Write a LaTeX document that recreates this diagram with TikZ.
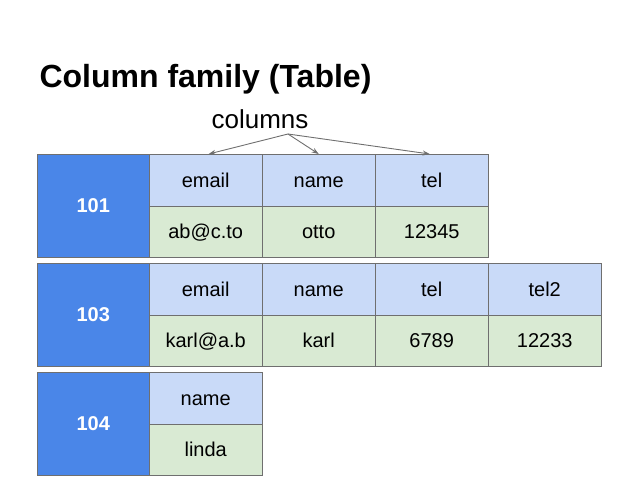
\documentclass[tikz,border=0pt]{standalone}
\usepackage{fontspec}
\setmainfont{Liberation Sans}
\usetikzlibrary{arrows.meta}

\definecolor{keyblue}{HTML}{4A86E8}
\definecolor{colblue}{HTML}{C9DAF8}
\definecolor{valgreen}{HTML}{D9EAD3}
\definecolor{gridgray}{HTML}{6F6F6F}

\tikzset{
  rowkey/.style={draw=gridgray, fill=keyblue, text=white, font=\fontsize{20}{20}\selectfont\bfseries,
    minimum width=112pt, minimum height=103pt, inner sep=0pt, anchor=north west,
    text height=16.5pt, text depth=2pt},
  colname/.style={draw=gridgray, fill=colblue, font=\fontsize{20}{20}\selectfont,
    minimum width=113pt, minimum height=51.5pt, inner sep=0pt, anchor=north west,
    text height=16.5pt, text depth=2pt},
  colval/.style={colname, fill=valgreen},
  pointer/.style={draw=gridgray, line width=0.9pt, -{Stealth[length=7pt,width=5pt]}}
}

\begin{document}
\begin{tikzpicture}[x=1pt,y=-1pt]
\useasboundingbox (0,0) rectangle (638,479);

\node[anchor=base west, font=\fontsize{32}{32}\selectfont\bfseries] (title) at (36,87) {Column family (Table)};
\node[font=\fontsize{26}{26}\selectfont] (cols) at (260,119) {columns};
\coordinate (colsrc) at (288,134);

% row 101
\node[rowkey] (k1) at (37,154) {101};
\node[colname] (c1a) at (149,154) {email};
\node[colname] (c1b) at (262,154) {name};
\node[colname] (c1c) at (375,154) {tel};
\node[colval] (v1a) at (149,205.5) {ab@c.to};
\node[colval] (v1b) at (262,205.5) {otto};
\node[colval] (v1c) at (375,205.5) {12345};

% row 103
\node[rowkey] (k2) at (37,263) {103};
\node[colname] (c2a) at (149,263) {email};
\node[colname] (c2b) at (262,263) {name};
\node[colname] (c2c) at (375,263) {tel};
\node[colname] (c2d) at (488,263) {tel2};
\node[colval] (v2a) at (149,314.5) {karl@a.b};
\node[colval] (v2b) at (262,314.5) {karl};
\node[colval] (v2c) at (375,314.5) {6789};
\node[colval] (v2d) at (488,314.5) {12233};

% row 104
\node[rowkey] (k3) at (37,372) {104};
\node[colname] (c3a) at (149,372) {name};
\node[colval] (v3a) at (149,423.5) {linda};

\draw[pointer] (colsrc) -- ([xshift=3pt]c1a.north);
\draw[pointer] (colsrc) -- (c1b.north);
\draw[pointer] (colsrc) -- ([xshift=-2pt]c1c.north);

\end{tikzpicture}
\end{document}
